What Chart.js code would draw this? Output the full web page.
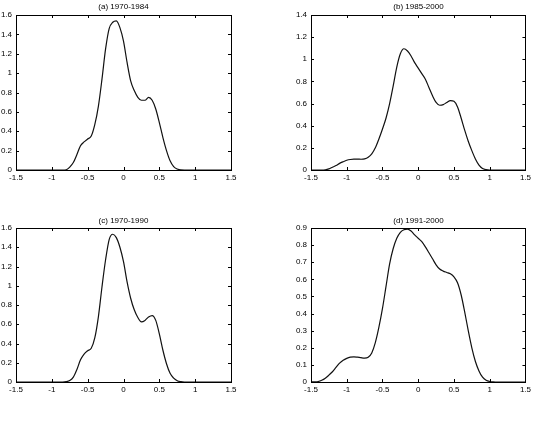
<!DOCTYPE html>
<html>
<head>
<meta charset="utf-8">
<script src="https://cdn.jsdelivr.net/npm/chart.js@4.4.0/dist/chart.umd.min.js"></script>
<style>
  body { margin: 0; background: #fff; }
  #page { position: relative; width: 534px; height: 428px; overflow: hidden; }
  .panel { position: absolute; width: 267px; height: 214px; }
  .panel canvas { position: absolute; left: 0; top: 0; }
  .title { position: absolute; top: 2px; font: 8px/10px "Liberation Sans", sans-serif; color: #000; white-space: nowrap; transform: translateX(-50%); }
</style>
</head>
<body>
<div id="page"></div>
<script>
// grid of x values the densities were read at
var xValues = [
    -1.5, -1.45, -1.4, -1.35, -1.3, -1.25, -1.2, -1.15, -1.1, -1.05,
    -1.0, -0.95, -0.9, -0.85, -0.8, -0.75, -0.7, -0.65, -0.6, -0.55,
    -0.5, -0.45, -0.4, -0.35, -0.3, -0.25, -0.2, -0.15, -0.1, -0.05,
    0.0, 0.05, 0.1, 0.15, 0.2, 0.25, 0.3, 0.35, 0.4, 0.45,
    0.5, 0.55, 0.6, 0.65, 0.7, 0.75, 0.8, 0.85, 0.9, 0.95,
    1.0, 1.05, 1.1, 1.15, 1.2, 1.25, 1.3, 1.35, 1.4, 1.45, 1.5
];

var densityA = [
    0, 0, 0, 0, 0, 0, 0, 0, 0, 0,
    0, 0, 0, 0, 0.003, 0.03, 0.077, 0.16, 0.25, 0.29,
    0.32, 0.35, 0.47, 0.66, 0.94, 1.25, 1.46, 1.525, 1.54, 1.47,
    1.33, 1.11, 0.92, 0.82, 0.75, 0.72, 0.72, 0.75, 0.72, 0.63,
    0.49, 0.335, 0.2, 0.095, 0.035, 0.01, 0.001, 0, 0, 0,
    0, 0, 0, 0, 0, 0, 0, 0, 0, 0, 0
];

var densityB = [
    0, 0, 0, 0, 0.002, 0.01, 0.025, 0.04, 0.06, 0.075,
    0.088, 0.095, 0.098, 0.098, 0.097, 0.1, 0.115, 0.145, 0.2, 0.28,
    0.37, 0.47, 0.6, 0.76, 0.93, 1.05, 1.095, 1.075, 1.03, 0.97,
    0.92, 0.87, 0.82, 0.745, 0.67, 0.61, 0.585, 0.59, 0.61, 0.627,
    0.62, 0.57, 0.47, 0.36, 0.26, 0.175, 0.1, 0.045, 0.014, 0.003,
    0, 0, 0, 0, 0, 0, 0, 0, 0, 0, 0
];

var densityC = [
    0, 0, 0, 0, 0, 0, 0, 0, 0, 0,
    0, 0, 0, 0, 0.003, 0.015, 0.05, 0.13, 0.23, 0.29,
    0.325, 0.35, 0.46, 0.68, 0.99, 1.27, 1.48, 1.535, 1.5, 1.4,
    1.25, 1.04, 0.87, 0.75, 0.67, 0.625, 0.64, 0.675, 0.69, 0.64,
    0.5, 0.33, 0.19, 0.09, 0.04, 0.013, 0.003, 0, 0, 0,
    0, 0, 0, 0, 0, 0, 0, 0, 0, 0, 0
];

var densityD = [
    0, 0.001, 0.003, 0.01, 0.022, 0.04, 0.06, 0.085, 0.11, 0.127,
    0.138, 0.145, 0.147, 0.145, 0.142, 0.14, 0.145, 0.17, 0.23, 0.32,
    0.43, 0.56, 0.69, 0.78, 0.84, 0.875, 0.89, 0.893, 0.882, 0.86,
    0.84, 0.82, 0.79, 0.755, 0.72, 0.685, 0.66, 0.648, 0.64, 0.632,
    0.615, 0.58, 0.51, 0.41, 0.3, 0.2, 0.12, 0.065, 0.028, 0.01,
    0.003, 0.001, 0, 0, 0, 0, 0, 0, 0, 0, 0
];

var panelTitles = ['(a) 1970-1984', '(b) 1985-2000', '(c) 1970-1990', '(d) 1991-2000'];
var panelDensities = [densityA, densityB, densityC, densityD];
var yMax = [1.6, 1.4, 1.6, 0.9];
var yStep = [0.2, 0.2, 0.2, 0.1];
var xMin = -1.5, xMax = 1.5, xStep = 0.5;

// where each panel sits and how its plot box is padded
var panelBoxes = [
    { left: 0,   top: 0,   pad: { left: 0,  right: 36, top: 15, bottom: 30 } },
    { left: 267, top: 0,   pad: { left: 28, right: 8,  top: 15, bottom: 30 } },
    { left: 0,   top: 214, pad: { left: 0,  right: 36, top: 14, bottom: 32 } },
    { left: 267, top: 214, pad: { left: 28, right: 8,  top: 14, bottom: 32 } }
];

var tickFont = { family: 'Liberation Sans', size: 8 };

// matlab style box with ticks pointing inwards on every side
var boxTicks = {
    id: 'boxTicks',
    afterDraw: function (chart) {
        var ctx = chart.ctx, a = chart.chartArea;
        var x = chart.scales.x, y = chart.scales.y;
        var len = 3;
        ctx.save();
        ctx.strokeStyle = '#000';
        ctx.lineWidth = 1;
        ctx.strokeRect(Math.round(a.left) + 0.5, Math.round(a.top) + 0.5,
            Math.round(a.right - a.left), Math.round(a.bottom - a.top));
        ctx.beginPath();
        x.ticks.forEach(function (t) {
            var px = Math.round(x.getPixelForValue(t.value)) + 0.5;
            ctx.moveTo(px, a.bottom); ctx.lineTo(px, a.bottom - len);
            ctx.moveTo(px, a.top); ctx.lineTo(px, a.top + len);
        });
        y.ticks.forEach(function (t) {
            var py = Math.round(y.getPixelForValue(t.value)) + 0.5;
            ctx.moveTo(a.left, py); ctx.lineTo(a.left + len, py);
            ctx.moveTo(a.right, py); ctx.lineTo(a.right - len, py);
        });
        ctx.stroke();
        ctx.restore();
    }
};

function fmt(v) {
    return String(Number(v.toFixed(2)));
}

var page = document.getElementById('page');

panelTitles.forEach(function (title, i) {
    var box = panelBoxes[i];
    var div = document.createElement('div');
    div.className = 'panel';
    div.style.left = box.left + 'px';
    div.style.top = box.top + 'px';
    var canvas = document.createElement('canvas');
    canvas.width = 267;
    canvas.height = 214;
    div.appendChild(canvas);
    var t = document.createElement('div');
    t.className = 'title';
    t.textContent = title;
    var plotLeft = box.pad.left + 16;
    var plotRight = 267 - box.pad.right;
    t.style.left = ((plotLeft + plotRight) / 2) + 'px';
    div.appendChild(t);
    page.appendChild(div);

    var points = xValues.map(function (xv, k) {
        return { x: xv, y: panelDensities[i][k] };
    });

    new Chart(canvas, {
        type: 'line',
        data: {
            datasets: [
                {
                    data: points,
                    borderColor: '#111',
                    borderWidth: 1.2,
                    pointRadius: 0,
                    fill: false,
                    cubicInterpolationMode: 'monotone'
                }
            ]
        },
        options: {
            responsive: false,
            animation: false,
            layout: { padding: box.pad },
            plugins: {
                legend: { display: false },
                tooltip: { enabled: false }
            },
            scales: {
                x: {
                    type: 'linear',
                    min: xMin,
                    max: xMax,
                    grid: { display: false, drawTicks: false, tickLength: 0 },
                    border: { display: false },
                    ticks: {
                        stepSize: xStep,
                        padding: 3,
                        maxRotation: 0,
                        color: '#000',
                        font: tickFont,
                        callback: fmt
                    },
                    afterFit: function (scale) { scale.height = 14; }
                },
                y: {
                    min: 0,
                    max: yMax[i],
                    grid: { display: false, drawTicks: false, tickLength: 0 },
                    border: { display: false },
                    ticks: {
                        stepSize: yStep[i],
                        padding: 4,
                        color: '#000',
                        font: tickFont,
                        callback: fmt
                    },
                    afterFit: function (scale) { scale.width = 16; }
                }
            }
        },
        plugins: [boxTicks]
    });
});
</script>
</body>
</html>
